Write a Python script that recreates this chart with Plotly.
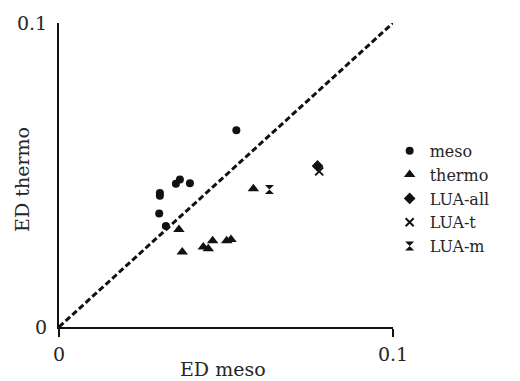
import plotly.graph_objects as go

meso_x = [0.0531, 0.0362, 0.0350, 0.0392, 0.0302, 0.0302, 0.0300, 0.0320]
meso_y = [0.0647, 0.0485, 0.0471, 0.0473, 0.0441, 0.0432, 0.0373, 0.0332]

thermo_x = [0.0359, 0.0369, 0.0582, 0.0432, 0.0447, 0.0460, 0.0502, 0.0515]
thermo_y = [0.0321, 0.0247, 0.0455, 0.0263, 0.0257, 0.0284, 0.0284, 0.0288]

lua_all_x = [0.0774]
lua_all_y = [0.0530]
lua_t_x = [0.0779]
lua_t_y = [0.0512]
lua_m_x = [0.0630]
lua_m_y = [0.0452]

diag_x = [0, 0.1]
diag_y = [0, 0.1]

tick_vals = [0, 0.1]
tick_text = ["0", "0.1"]

x_title = "ED meso"
y_title = "ED thermo"

FONT = "DejaVu Serif"
TXT = "#262626"

fig = go.Figure()
fig.add_trace(go.Scatter(x=diag_x, y=diag_y, mode="lines", showlegend=False,
                         line=dict(color="#111", width=3, dash="6px,3px"), hoverinfo="skip"))
fig.add_trace(go.Scatter(x=meso_x, y=meso_y, mode="markers", name="meso",
                         marker=dict(symbol="circle", size=8, color="#111")))
fig.add_trace(go.Scatter(x=thermo_x, y=thermo_y, mode="markers", name="thermo",
                         marker=dict(symbol="triangle-up", size=10, color="#111")))
fig.add_trace(go.Scatter(x=lua_all_x, y=lua_all_y, mode="markers", name="LUA-all",
                         marker=dict(symbol="diamond", size=9, color="#111")))
fig.add_trace(go.Scatter(x=lua_t_x, y=lua_t_y, mode="markers", name="LUA-t",
                         marker=dict(symbol="x-thin", size=8, color="#111",
                                     line=dict(color="#111", width=2))))
fig.add_trace(go.Scatter(x=lua_m_x, y=lua_m_y, mode="markers", name="LUA-m",
                         marker=dict(symbol="hourglass", size=9, color="#111")))

axis_common = dict(range=[0, 0.1], tickvals=tick_vals, ticktext=tick_text,
                   showgrid=False, zeroline=False, showline=True,
                   linecolor="#111", linewidth=2,
                   tickfont=dict(family=FONT, size=19, color=TXT))

fig.update_xaxes(**axis_common, ticks="outside", ticklen=8, tickwidth=1.5,
                 tickcolor="#111", ticklabelstandoff=1)
fig.update_yaxes(**axis_common, ticks="", ticklabelstandoff=6)

fig.update_layout(
    width=520, height=381,
    margin=dict(l=59, r=127, t=15, b=54),
    paper_bgcolor="white", plot_bgcolor="white",
    font=dict(family=FONT, size=19, color=TXT),
    showlegend=True,
    legend=dict(x=0.99, y=0.423, xanchor="left", yanchor="middle",
                font=dict(family=FONT, size=16, color=TXT),
                itemwidth=30, tracegroupgap=0, bgcolor="rgba(0,0,0,0)"),
    annotations=[
        dict(text=x_title, xref="paper", yref="paper", x=0.4925, y=-0.138,
             xanchor="center", yanchor="middle", showarrow=False,
             font=dict(family=FONT, size=19, color=TXT)),
        dict(text=y_title, xref="paper", yref="paper", x=-0.111, y=0.487,
             xanchor="center", yanchor="middle", showarrow=False, textangle=-90,
             font=dict(family=FONT, size=19, color=TXT)),
    ],
)

fig.write_html("out.html", config={"displayModeBar": False},
               post_script="document.body.style.margin='0';document.body.style.overflow='hidden';")
